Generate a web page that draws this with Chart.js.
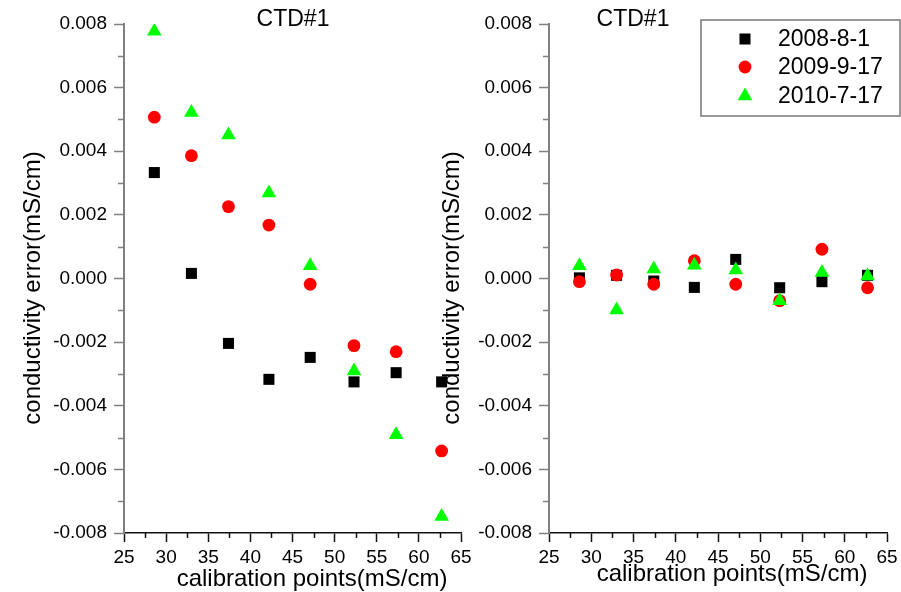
<!DOCTYPE html>
<html>
<head>
<meta charset="utf-8">
<script src="https://cdn.jsdelivr.net/npm/chart.js@4/dist/chart.umd.min.js"></script>
<style>
  html, body { margin: 0; padding: 0; background: #fff; }
  #wrap { position: relative; width: 901px; height: 592px; background: #fff; }
  #wrap canvas { position: absolute; left: 0; top: 0; }
</style>
</head>
<body>
<div id="wrap">
  <canvas id="leftPanel" width="901" height="592"></canvas>
  <canvas id="rightPanel" width="901" height="592"></canvas>
</div>
<script>
  // calibration points (mS/cm), same for both panels
  const calPoints = [28.6, 33.0, 37.4, 42.2, 47.1, 52.3, 57.3, 62.7];

  // left panel: conductivity error (mS/cm)
  const left2008 = [0.00333, 0.00016, -0.00204, -0.00317, -0.00248, -0.00325, -0.00296, -0.00325];
  const left2009 = [0.00507, 0.00386, 0.00226, 0.00168, -0.00018, -0.00211, -0.0023, -0.00542];
  const left2010 = [0.00777, 0.00522, 0.00451, 0.00269, 0.0004, -0.00291, -0.00491, -0.00748];

  // right panel
  const right2008 = [0.00002, 0.0001, -0.00008, -0.00028, 0.0006, -0.00029, -0.0001, 0.0001];
  const right2009 = [-0.0001, 0.00011, -0.00018, 0.00056, -0.00018, -0.0007, 0.00092, -0.00029];
  const right2010 = [0.0004, -0.00099, 0.0003, 0.00042, 0.00027, -0.0007, 0.00019, 0.00008];

  const seriesNames = ["2008-8-1", "2009-9-17", "2010-7-17"];
  const seriesColors = ["#000000", "#ff0000", "#00ff00"];
  const seriesStyles = ["rect", "circle", "triangle"];
  const seriesRadius = [7.8, 6.4, 8.5];

  const xTicksMinor = [27.5, 32.5, 37.5, 42.5, 47.5, 52.5, 57.5, 62.5];
  const yTicksMinor = [-0.007, -0.005, -0.003, -0.001, 0.001, 0.003, 0.005, 0.007];

  const FONT = "'Liberation Sans', Arial, sans-serif";
  Chart.defaults.font.family = FONT;
  Chart.defaults.color = "#000";

  const W = 901, H = 592;
  const PLOT_TOP = 24, PLOT_BOTTOM = 533;

  function toPoints(ys) {
    return calPoints.map((x, i) => ({ x: x, y: ys[i] }));
  }

  // titles, minor ticks and legend drawn after the chart
  const decoPlugin = {
    id: "panelDeco",
    afterDraw(chart, args, o) {
      const ctx = chart.ctx;
      const xs = chart.scales.x, ys = chart.scales.y;
      const area = chart.chartArea;
      ctx.save();

      // minor ticks
      ctx.lineWidth = 1.5;
      ctx.strokeStyle = "#111";
      xTicksMinor.forEach(v => {
        const px = Math.round(xs.getPixelForValue(v)) + 0.5;
        ctx.beginPath();
        ctx.moveTo(px, area.bottom);
        ctx.lineTo(px, area.bottom + 5);
        ctx.stroke();
      });
      ctx.strokeStyle = "#808080";
      yTicksMinor.forEach(v => {
        const py = Math.round(ys.getPixelForValue(v)) + 0.5;
        ctx.beginPath();
        ctx.moveTo(area.left, py);
        ctx.lineTo(area.left - 6, py);
        ctx.stroke();
      });

      // panel title
      ctx.fillStyle = "#000";
      ctx.textAlign = "center";
      ctx.textBaseline = "middle";
      ctx.font = "23px " + FONT;
      ctx.fillText(o.title, o.titleX, 20);

      // axis titles
      ctx.font = "24px " + FONT;
      ctx.fillText("calibration points(mS/cm)", o.xTitleX, o.xTitleY);
      ctx.save();
      ctx.translate(o.yTitleX, 288);
      ctx.rotate(-Math.PI / 2);
      ctx.fillText("conductivity error(mS/cm)", 0, 0);
      ctx.restore();

      // legend box
      if (o.legend) {
        ctx.strokeStyle = "#777";
        ctx.lineWidth = 1.5;
        ctx.strokeRect(701, 20, 199, 96);
        const rows = [39, 67, 96];
        ctx.font = "23px " + FONT;
        ctx.textAlign = "left";
        chart.data.datasets.forEach((ds, i) => {
          ctx.fillStyle = ds.backgroundColor;
          Chart.helpers.drawPoint(ctx, {
            pointStyle: ds.pointStyle, radius: ds.pointRadius, rotation: 0, borderWidth: 0
          }, 745, rows[i]);
          ctx.fillStyle = "#000";
          ctx.fillText(ds.label, 778, rows[i] + 1);
        });
      }
      ctx.restore();
    }
  };

  function makePanel(canvasId, sets, left, right, deco) {
    const datasets = sets.map((ys, i) => ({
      label: seriesNames[i],
      data: toPoints(ys),
      pointStyle: seriesStyles[i],
      pointRadius: seriesRadius[i],
      pointHoverRadius: seriesRadius[i],
      backgroundColor: seriesColors[i],
      borderColor: seriesColors[i],
      borderWidth: 0,
      showLine: false,
      order: 3 - i   // green on top, black at the bottom
    }));

    return new Chart(document.getElementById(canvasId), {
      type: "scatter",
      data: { datasets: datasets },
      plugins: [decoPlugin],
      options: {
        responsive: false,
        animation: false,
        events: [],
        layout: { padding: { left: left - 124, right: W - right, top: PLOT_TOP, bottom: 0 } },
        plugins: {
          legend: { display: false },
          tooltip: { enabled: false },
          panelDeco: deco
        },
        scales: {
          x: {
            type: "linear",
            min: 25,
            max: 65,
            border: { display: true, color: "#111", width: 1.5 },
            grid: { drawOnChartArea: false, drawTicks: true, tickLength: 9, tickColor: "#111", tickWidth: 1.5 },
            ticks: { stepSize: 5, padding: 4, font: { size: 19 }, color: "#000", maxRotation: 0 },
            afterFit(scale) {
              scale.height = H - PLOT_BOTTOM;
              scale.paddingLeft = 0;
              scale.paddingRight = 0;
            }
          },
          y: {
            type: "linear",
            min: -0.008,
            max: 0.008,
            border: { display: true, color: "#808080", width: 2 },
            grid: { drawOnChartArea: false, drawTicks: true, tickLength: 10, tickColor: "#808080", tickWidth: 1.5 },
            ticks: {
              stepSize: 0.002,
              padding: 7,
              font: { size: 19 },
              color: "#000",
              callback: v => Number(v).toFixed(3)
            },
            afterFit(scale) {
              scale.width = 124;
              scale.paddingTop = 0;
              scale.paddingBottom = 0;
            }
          }
        }
      }
    });
  }

  makePanel("leftPanel", [left2008, left2009, left2010], 124, 461, {
    title: "CTD#1", titleX: 293, xTitleX: 312, xTitleY: 579, yTitleX: 33, legend: false
  });

  makePanel("rightPanel", [right2008, right2009, right2010], 549, 887, {
    title: "CTD#1", titleX: 633, xTitleX: 732, xTitleY: 574, yTitleX: 452, legend: true
  });
</script>
</body>
</html>
